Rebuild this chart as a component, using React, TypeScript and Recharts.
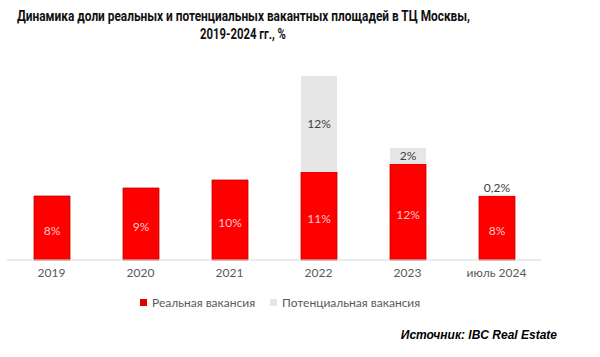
import { BarChart, Bar, XAxis, YAxis, LabelList } from 'recharts';

const categories = ['2019', '2020', '2021', '2022', '2023', 'июль 2024'];
const realVacancy = [8, 9, 10, 11, 12, 8];
const potentialVacancy: (number | null)[] = [null, null, null, 12, 2, 0.2];

const chartData = categories.map((name, i) => ({
  name,
  real: realVacancy[i],
  potential: potentialVacancy[i],
}));

const RED = '#ff0000';
const GRAY = '#e6e6e6';
const TEXT = '#595959';
const FONT = 'Lato, "Open Sans", sans-serif';

const fmt = (v: any) => `${String(v).replace('.', ',')}%`;

// label inside the gray segment, or above it when the segment is too thin
function PotentialLabel(props: any) {
  const { x, y, width, height, value } = props;
  if (value == null || value === 0) return null;
  const cx = x + width / 2;
  const thin = Math.abs(height) < 10;
  const cy = thin ? y - 7 : y + height / 2 - 1;
  return (
    <text x={cx} y={cy} textAnchor="middle" dominantBaseline="central" fill="#404040" fontSize={12} fontFamily={FONT}>
      {fmt(value)}
    </text>
  );
}

function RealLabel(props: any) {
  const { x, y, width, height, value } = props;
  return (
    <text x={x + width / 2} y={y + height / 2 + 2} textAnchor="middle" dominantBaseline="central" fill="#ffc9c9" fontSize={12} fontFamily={FONT}>
      {fmt(value)}
    </text>
  );
}

export default function App() {
  return (
    <div style={{ position: 'absolute', left: 0, top: 0, width: 600, height: 357, background: '#fff', overflow: 'hidden' }}>
      <div style={{ position: 'absolute', left: 0, top: 0 }}>
        <BarChart width={600} height={357} data={chartData} margin={{ top: 60, right: 59, left: 7, bottom: 67 }} barSize={36}>
          <XAxis
            dataKey="name"
            height={30}
            tick={{ fontSize: 12, fill: TEXT, fontFamily: FONT }}
            tickLine={false}
            axisLine={{ stroke: '#d9d9d9' }}
            interval={0}
          />
          <YAxis hide domain={[0, 25]} />
          <Bar dataKey="real" stackId="a" fill={RED} stroke="#c00000" strokeWidth={0.8} isAnimationActive={false}>
            <LabelList dataKey="real" content={<RealLabel />} />
          </Bar>
          <Bar dataKey="potential" stackId="a" fill={GRAY} isAnimationActive={false}>
            <LabelList dataKey="potential" content={<PotentialLabel />} />
          </Bar>
        </BarChart>
      </div>

      <svg width={600} height={50} style={{ position: 'absolute', left: 0, top: 0 }}>
        <g fontFamily="Roboto, sans-serif" fontWeight={700} fontSize={14.5} fill="#111" textAnchor="middle">
          <text x={243.5} y={21} textLength={453} lengthAdjust="spacingAndGlyphs">
            Динамика доли реальных и потенциальных вакантных площадей в ТЦ Москвы,
          </text>
          <text x={243} y={38.5} textLength={86} lengthAdjust="spacingAndGlyphs">
            2019-2024 гг., %
          </text>
        </g>
      </svg>

      <div style={{ position: 'absolute', left: 140, top: 295, display: 'flex', alignItems: 'center', fontFamily: FONT, fontSize: 12, color: TEXT }}>
        <span style={{ width: 7, height: 7, background: '#e00000', display: 'inline-block', marginRight: 5 }} />
        <span>Реальная вакансия</span>
        <span style={{ width: 7, height: 7, background: GRAY, display: 'inline-block', marginLeft: 15, marginRight: 5 }} />
        <span>Потенциальная вакансия</span>
      </div>

      <div
        style={{
          position: 'absolute',
          right: 43,
          top: 328,
          fontFamily: '"Liberation Sans", Arial, sans-serif',
          fontWeight: 700,
          fontStyle: 'italic',
          fontSize: 12,
          color: '#000',
        }}
      >
        Источник: IBC Real Estate
      </div>
    </div>
  );
}
